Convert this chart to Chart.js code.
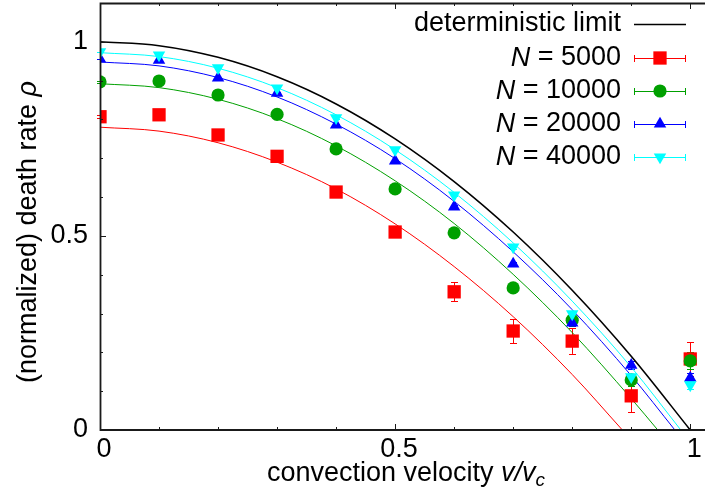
<!DOCTYPE html>
<html><head><meta charset="utf-8">
<script src="https://cdn.jsdelivr.net/npm/chart.js@4.4.1/dist/chart.umd.min.js"></script>
<style>html,body{margin:0;padding:0;background:#fff;overflow:hidden}#wrap{width:705px;height:488px;position:relative}</style>
</head><body><div id="wrap"><canvas id="c" width="705" height="488"></canvas></div>
<script>
// ---- data ----
const vel = [0, 0.1, 0.2, 0.3, 0.4, 0.5, 0.6, 0.7, 0.8, 0.9, 1.0];
const rho5000  = [0.807, 0.812, 0.760, 0.705, 0.613, 0.510, 0.356, 0.255, 0.229, 0.088, 0.183];
const err5000  = [0.004, 0.004, 0.005, 0.005, 0.007, 0.010, 0.024, 0.031, 0.033, 0.042, 0.043];
const rho10000 = [0.897, 0.899, 0.863, 0.813, 0.724, 0.621, 0.508, 0.366, 0.283, 0.129, 0.178];
const err10000 = [0.002, 0.002, 0.002, 0.003, 0.003, 0.004, 0.005, 0.008, 0.012, 0.015, 0.022];
const rho20000 = [0.956, 0.953, 0.907, 0.868, 0.786, 0.693, 0.575, 0.428, 0.276, 0.167, 0.134];
const err20000 = [0.001, 0.001, 0.001, 0.002, 0.002, 0.003, 0.004, 0.005, 0.008, 0.010, 0.012];
const rho40000 = [0.974, 0.966, 0.933, 0.881, 0.804, 0.722, 0.605, 0.471, 0.299, 0.137, 0.116];
const err40000 = [0.001, 0.001, 0.001, 0.001, 0.002, 0.002, 0.003, 0.004, 0.006, 0.008, 0.010];

// fitted / theoretical curves
const curveXdet   = [0, 0.1, 0.2, 0.3, 0.4, 0.5, 0.6, 0.7, 0.8, 0.9, 1.0];
const curveDet    = [1.000, 0.990, 0.960, 0.910, 0.840, 0.750, 0.640, 0.510, 0.360, 0.190, 0.000];
const curveX5000  = [0, 0.1, 0.2, 0.3, 0.4, 0.5, 0.6, 0.7, 0.8, 0.885];
const curve5000   = [0.780, 0.770, 0.740, 0.690, 0.621, 0.531, 0.421, 0.292, 0.143, 0.000];
const curveX10000 = [0, 0.1, 0.2, 0.3, 0.4, 0.5, 0.6, 0.7, 0.8, 0.9, 0.945];
const curve10000  = [0.892, 0.882, 0.852, 0.802, 0.732, 0.642, 0.532, 0.401, 0.251, 0.081, 0.000];
const curveX20000 = [0, 0.1, 0.2, 0.3, 0.4, 0.5, 0.6, 0.7, 0.8, 0.9, 0.974];
const curve20000  = [0.948, 0.938, 0.908, 0.858, 0.788, 0.699, 0.589, 0.459, 0.310, 0.140, 0.000];
const curveX40000 = [0, 0.1, 0.2, 0.3, 0.4, 0.5, 0.6, 0.7, 0.8, 0.9, 0.984];
const curve40000  = [0.972, 0.962, 0.932, 0.882, 0.812, 0.722, 0.612, 0.482, 0.332, 0.162, 0.000];

const xTickLabels = ['0', '0.5', '1'];
const yTickLabels = ['0', '0.5', '1'];
const legendLabels = ['deterministic limit', '5000', '10000', '20000', '40000'];

// ---- styling ----
const FONT = '"Liberation Sans", Arial, Helvetica, sans-serif';
const FS = 27;
const RED = '#ff0000', GREEN = '#00a000', BLUE = '#0000ff', CYAN = '#00ffff';

const pts = (xs, ys) => xs.map((x, i) => ({x: x, y: ys[i]}));

function curveDs(xs, ys, color, w) {
  return {type: 'line', data: pts(xs, ys), borderColor: color, borderWidth: w,
    pointRadius: 0, fill: false, cubicInterpolationMode: 'monotone', order: 20};
}
function markDs(ys, errs, color, style, r, rot, ord) {
  return {type: 'scatter', data: pts(vel, ys), errors: errs, showLine: false,
    backgroundColor: color, borderColor: color, pointStyle: style, pointRadius: r,
    pointRotation: rot, pointBorderWidth: 0, pointHoverRadius: r, order: ord};
}

const series = [
  {label: legendLabels[1], color: RED,   style: 'rect',     r: 9.4, rot: 0},
  {label: legendLabels[2], color: GREEN, style: 'circle',   r: 6.6, rot: 0},
  {label: legendLabels[3], color: BLUE,  style: 'triangle', r: 7.2, rot: 0},
  {label: legendLabels[4], color: CYAN,  style: 'triangle', r: 7.2, rot: 180},
];

const datasets = [
  curveDs(curveXdet, curveDet, '#000000', 1.6),
  curveDs(curveX5000, curve5000, RED, 1),
  curveDs(curveX10000, curve10000, GREEN, 1),
  curveDs(curveX20000, curve20000, BLUE, 1),
  curveDs(curveX40000, curve40000, CYAN, 1),
  markDs(rho5000, err5000, RED, 'rect', 9.4, 0, 4),
  markDs(rho10000, err10000, GREEN, 'circle', 6.6, 0, 3),
  markDs(rho20000, err20000, BLUE, 'triangle', 7.2, 0, 2),
  markDs(rho40000, err40000, CYAN, 'triangle', 7.2, 180, 1),
];

function drawMarker(ctx, style, x, y, r, rot, color) {
  ctx.save();
  ctx.fillStyle = color;
  ctx.beginPath();
  if (style === 'rect') {
    const s = r * Math.SQRT1_2;
    ctx.rect(x - s, y - s, 2 * s, 2 * s);
  } else if (style === 'circle') {
    ctx.arc(x, y, r, 0, Math.PI * 2);
  } else {
    let a = rot * Math.PI / 180;
    ctx.moveTo(x + Math.sin(a) * r, y - Math.cos(a) * r);
    a += 2 * Math.PI / 3;
    ctx.lineTo(x + Math.sin(a) * r, y - Math.cos(a) * r);
    a += 2 * Math.PI / 3;
    ctx.lineTo(x + Math.sin(a) * r, y - Math.cos(a) * r);
    ctx.closePath();
  }
  ctx.fill();
  ctx.restore();
}

const errorBars = {
  id: 'errorBars',
  beforeDatasetsDraw(chart) {
    const ctx = chart.ctx, xs = chart.scales.x, ys = chart.scales.y;
    chart.data.datasets.forEach((ds) => {
      if (!ds.errors) return;
      ctx.save();
      ctx.strokeStyle = ds.borderColor;
      ctx.lineWidth = 1;
      ds.data.forEach((p, i) => {
        const e = ds.errors[i];
        const px = Math.round(xs.getPixelForValue(p.x)) + 0.5;
        const y1 = ys.getPixelForValue(p.y - e), y2 = ys.getPixelForValue(p.y + e);
        ctx.beginPath();
        ctx.moveTo(px, y1); ctx.lineTo(px, y2);
        ctx.moveTo(px - 3.5, Math.round(y1) + 0.5); ctx.lineTo(px + 3.5, Math.round(y1) + 0.5);
        ctx.moveTo(px - 3.5, Math.round(y2) + 0.5); ctx.lineTo(px + 3.5, Math.round(y2) + 0.5);
        ctx.stroke();
      });
      ctx.restore();
    });
  }
};

const frame = {
  id: 'frame',
  afterDatasetsDraw(chart) {
    const ctx = chart.ctx, a = chart.chartArea, xs = chart.scales.x, ys = chart.scales.y;
    ctx.save();
    ctx.strokeStyle = '#1a1a1a';
    ctx.lineWidth = 1;
    for (let i = 0; i <= 10; i++) {
      const v = i / 10;
      const len = (i % 5 === 0) ? 6 : 3;
      const px = Math.round(xs.getPixelForValue(v)) + 0.5;
      ctx.beginPath();
      ctx.moveTo(px, a.bottom); ctx.lineTo(px, a.bottom - len);
      ctx.moveTo(px, a.top); ctx.lineTo(px, a.top + len);
      ctx.stroke();
    }
    for (let i = 0; i <= 11; i++) {
      const v = i / 10;
      const len = (i % 5 === 0) ? 6 : 3;
      const py = Math.round(ys.getPixelForValue(v)) + 0.5;
      ctx.beginPath();
      ctx.moveTo(a.left, py); ctx.lineTo(a.left + len, py);
      ctx.stroke();
    }
    ctx.lineWidth = 1.8;
    ctx.beginPath();
    ctx.moveTo(a.right + 2, a.top + 0.5);
    ctx.lineTo(a.left + 0.5, a.top + 0.5);
    ctx.lineTo(a.left + 0.5, a.bottom);
    ctx.lineTo(a.right + 2, a.bottom);
    ctx.stroke();
    ctx.restore();
  },
  afterDraw(chart) {
    const ctx = chart.ctx;
    ctx.save();
    ctx.fillStyle = '#000';
    ctx.textBaseline = 'middle';
    const reg = FS + 'px ' + FONT, ital = 'italic ' + FS + 'px ' + FONT;
    // legend
    const rightX = 621, sx1 = 634, sx2 = 686, sxc = 660;
    const rowY = [24, 58, 91, 124, 157];
    ctx.textAlign = 'right';
    ctx.font = reg;
    ctx.fillText(legendLabels[0], rightX, rowY[0]);
    ctx.strokeStyle = '#000'; ctx.lineWidth = 1.6;
    ctx.beginPath(); ctx.moveTo(sx1, rowY[0] + 0.5); ctx.lineTo(sx2, rowY[0] + 0.5); ctx.stroke();
    series.forEach((s, k) => {
      const y = rowY[k + 1];
      ctx.font = reg;
      const rest = ' = ' + s.label;
      const wRest = ctx.measureText(rest).width;
      ctx.textAlign = 'right';
      ctx.fillText(rest, rightX, y);
      ctx.font = ital;
      ctx.fillText('N', rightX - wRest, y);
      ctx.strokeStyle = s.color; ctx.lineWidth = 1;
      const yy = Math.round(y) + 0.5;
      ctx.beginPath();
      ctx.moveTo(sx1, yy); ctx.lineTo(sx2, yy);
      ctx.moveTo(sx1 + 0.5, yy - 3.5); ctx.lineTo(sx1 + 0.5, yy + 3.5);
      ctx.moveTo(sx2 - 0.5, yy - 3.5); ctx.lineTo(sx2 - 0.5, yy + 3.5);
      ctx.stroke();
      drawMarker(ctx, s.style, sxc, y, s.r, s.rot, s.color);
    });
    // x title
    ctx.textAlign = 'left';
    ctx.textBaseline = 'alphabetic';
    const p1 = 'convection velocity ', p2 = 'v/v', p3 = 'c';
    const subF = 'italic 19px ' + FONT;
    ctx.font = reg; const w1 = ctx.measureText(p1).width;
    ctx.font = ital; const w2 = ctx.measureText(p2).width;
    ctx.font = subF; const w3 = ctx.measureText(p3).width;
    const x0 = 406 - (w1 + w2 + w3) / 2;
    const by = 481;
    ctx.font = reg; ctx.fillText(p1, x0, by);
    ctx.font = ital; ctx.fillText(p2, x0 + w1, by);
    ctx.font = subF; ctx.fillText(p3, x0 + w1 + w2, by + 5);
    // y title
    ctx.translate(36, 232);
    ctx.rotate(-Math.PI / 2);
    const q1 = '(normalized) death rate ', q2 = 'ρ';
    ctx.font = reg; const v1 = ctx.measureText(q1).width;
    ctx.font = ital; const v2 = ctx.measureText(q2).width;
    const s0 = -(v1 + v2) / 2;
    ctx.font = reg; ctx.fillText(q1, s0, 0);
    ctx.font = ital; ctx.fillText(q2, s0 + v1, 0);
    ctx.restore();
  }
};

const near = (v, t) => Math.abs(v - t) < 1e-6;

new Chart(document.getElementById('c'), {
  data: {datasets: datasets},
  options: {
    responsive: false, animation: false, devicePixelRatio: 1,
    layout: {autoPadding: false, padding: {top: 3, right: 0, left: 0, bottom: 0}},
    plugins: {legend: {display: false}, tooltip: {enabled: false}},
    scales: {
      x: {type: 'linear', min: 0, max: 1.025,
        border: {display: false}, grid: {display: false, drawTicks: false},
        ticks: {stepSize: 0.1, includeBounds: false, padding: 3, labelOffset: 4, maxRotation: 0, autoSkip: false,
          color: '#000', font: {family: FONT, size: FS},
          callback: (v) => near(v, 0) ? xTickLabels[0] : near(v, 0.5) ? xTickLabels[1] : near(v, 1) ? xTickLabels[2] : ''},
        afterFit: (s) => { s.height = 58; s.paddingLeft = 0; s.paddingRight = 0; }
      },
      y: {type: 'linear', min: 0, max: 1.1,
        border: {display: false}, grid: {display: false, drawTicks: false},
        ticks: {stepSize: 0.1, includeBounds: false, padding: 12, autoSkip: false,
          color: '#000', font: {family: FONT, size: FS},
          callback: (v) => near(v, 0) ? yTickLabels[0] : near(v, 0.5) ? yTickLabels[1] : near(v, 1) ? yTickLabels[2] : ''},
        afterFit: (s) => { s.width = 100; s.paddingTop = 0; s.paddingBottom = 0; }
      }
    }
  },
  plugins: [errorBars, frame]
});
</script>
</body></html>
